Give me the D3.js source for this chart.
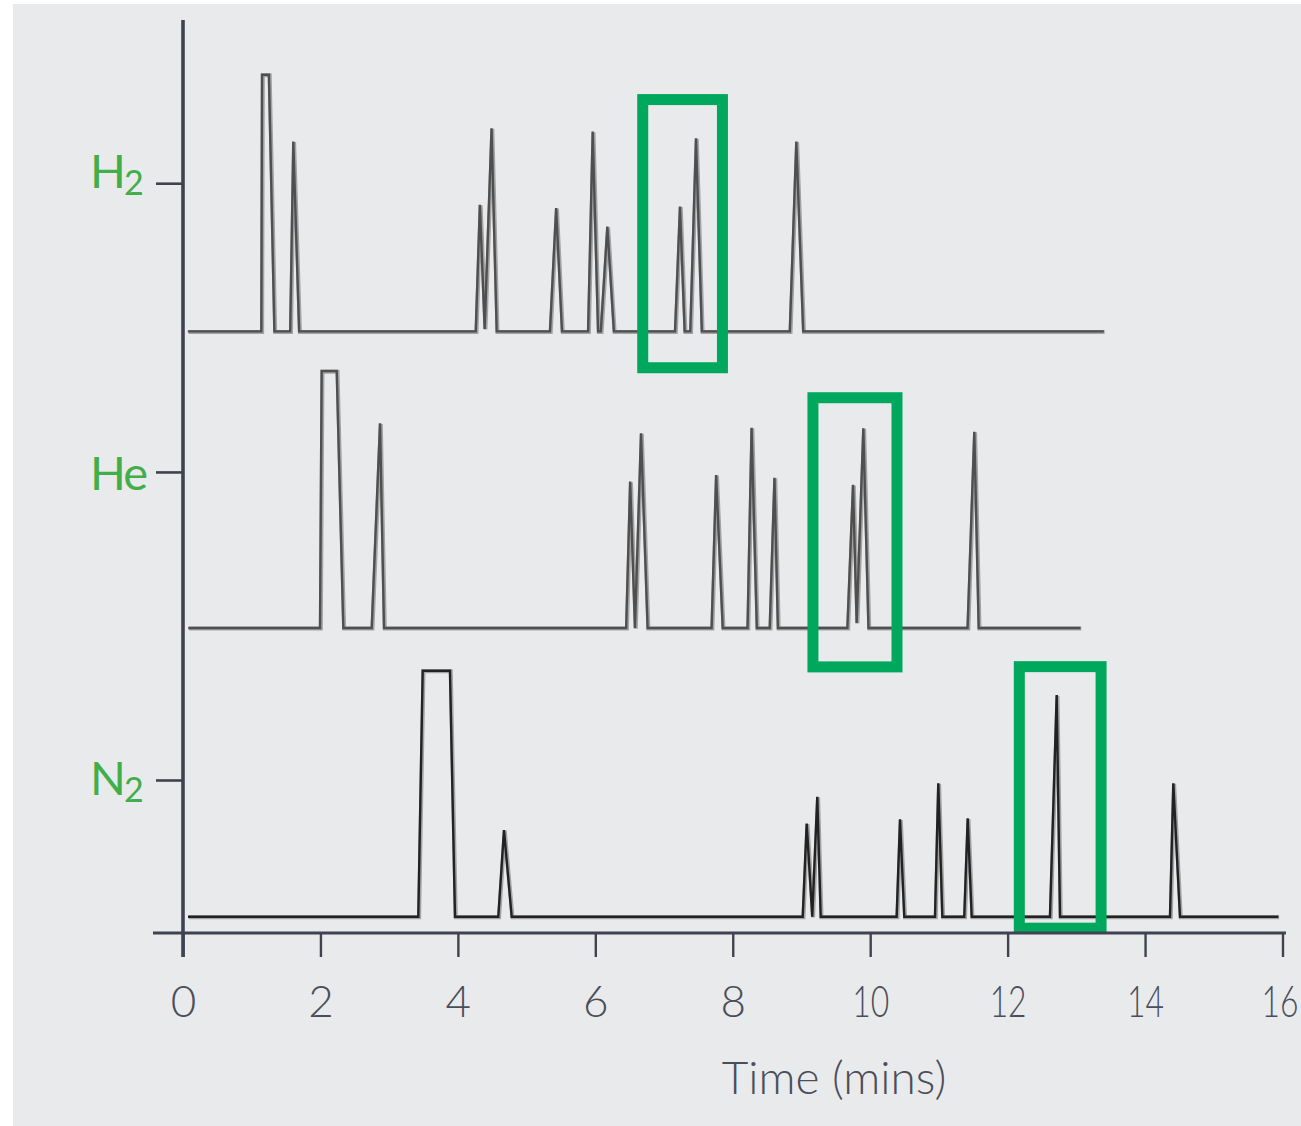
<!DOCTYPE html>
<html>
<head>
<meta charset="utf-8">
<script src="https://cdn.jsdelivr.net/npm/d3@7"></script>
<style>
  html, body { margin: 0; padding: 0; background: #ffffff; }
  svg { display: block; }
</style>
</head>
<body>
<svg id="chart" width="1301" height="1126"></svg>
<script>
// ---------- data ----------
const xTicks = [0, 2, 4, 6, 8, 10, 12, 14, 16];
const xLabel = "Time (mins)";
const gasNames = [["H", "2"], ["He", ""], ["N", "2"]];
const gasLabelPos = [295, 181.4, 60.2];     // y position of each category tick (offset units)
const gasBaselines = [236.7, 120, 6.4];     // baseline offset of each trace

const traceH2 = [
  [0.07,0],[1.14,0],[1.15,101],[1.25,101],[1.33,0],[1.56,0],[1.605,74.7],[1.69,0],
  [4.26,0],[4.32,49.8],[4.39,1],[4.49,79.9],[4.565,0],[5.34,0],[5.43,48.5],[5.515,0],
  [5.895,0],[5.962,78.6],[6.04,0],[6.08,0],[6.175,41.2],[6.27,0],[7.16,0],[7.232,49.1],
  [7.30,0],[7.382,0],[7.465,76],[7.55,0],[8.83,0],[8.925,74.7],[9.025,0],[13.40,0]
];
const traceHe = [
  [0.077,0],[1.994,0],[2.018,101.1],[2.237,101.1],[2.333,0],[2.746,0],[2.867,80.5],[2.925,0],
  [6.449,0],[6.507,57.6],[6.577,0],[6.665,76.6],[6.761,0],[7.692,0],[7.758,60.2],[7.854,0],
  [8.215,0],[8.274,78.8],[8.35,0],[8.538,0],[8.607,59.1],[8.657,0],[9.668,0],[9.75,56.3],
  [9.803,2],[9.9,78.6],[9.975,0],[11.417,0],[11.515,77.2],[11.579,0],[13.06,0]
];
const traceN2 = [
  [0.073,0],[3.424,0],[3.488,96.8],[3.885,96.8],[3.958,0],[4.588,0],[4.671,34.1],[4.783,0],
  [9.018,0],[9.076,36.7],[9.157,0],[9.23,47.2],[9.28,0],[10.385,0],[10.434,38.3],[10.496,0],
  [10.943,0],[10.991,52.5],[11.05,0],[11.369,0],[11.419,38.7],[11.477,0],[12.616,0],
  [12.714,87.2],[12.762,0],[14.363,0],[14.411,52.5],[14.508,0],[15.94,0]
];
const traces = [traceH2, traceHe, traceN2];

// highlight boxes: [t0, t1, yBottom, yTop] in axis units
const highlightBoxes = [
  [6.69, 7.85, 222.4, 327.9],
  [9.167, 10.39, 104.7, 210.6],
  [12.17, 13.36, 1.9, 104.8]
];

// ---------- layout / style ----------
const traceColors = ["#4f4f4f", "#4f4f4f", "#222222"];
const labelDy = [5, 18, 15];
const fontFamily = "Lato, 'Open Sans', sans-serif";

const svg = d3.select("#chart");
svg.append("rect").attr("x", 13).attr("y", 4).attr("width", 1301 - 13).attr("height", 1126 - 4)
  .attr("fill", "#e9eaec");

const x = d3.scaleLinear().domain([0, 16]).range([183, 1282.5]);
const y = d3.scaleLinear().domain([0, 360]).range([933, 18]);

const axisColor = "#3f4350";
const textColor = "#4a4e5a";
const labelGreen = "#41ae4a";
const boxGreen = "#00a85d";

// traces (gray halo + darker core, like the scanned original)
const line = d3.line().x(d => x(d[0])).y(d => y(d[1]));
traces.forEach((tr, i) => {
  const pts = tr.map(p => [p[0], p[1] + gasBaselines[i]]);
  svg.append("path")
    .datum(pts)
    .attr("d", line)
    .attr("fill", "none")
    .attr("stroke", "#a3a3a3")
    .attr("stroke-width", 4)
    .attr("stroke-linejoin", "miter")
    .attr("transform", "translate(0.8,0.6)");
  svg.append("path")
    .datum(pts)
    .attr("d", line)
    .attr("fill", "none")
    .attr("stroke", traceColors[i])
    .attr("stroke-width", 2.4)
    .attr("stroke-linejoin", "miter");
});

// highlight boxes
svg.selectAll("rect.box").data(highlightBoxes).enter().append("rect")
  .attr("class", "box")
  .attr("x", d => x(d[0]))
  .attr("y", d => y(d[3]))
  .attr("width", d => x(d[1]) - x(d[0]))
  .attr("height", d => y(d[2]) - y(d[3]))
  .attr("fill", "none")
  .attr("stroke", boxGreen)
  .attr("stroke-width", 11);

// x axis
const gx = svg.append("g").attr("transform", `translate(0,${y(0)})`)
  .call(d3.axisBottom(x).tickValues(xTicks).tickSize(24).tickSizeOuter(0).tickFormat(d3.format("d")));
gx.select(".domain").remove();
gx.selectAll(".tick line").attr("stroke", axisColor).attr("stroke-width", 2.4);
gx.selectAll(".tick text")
  .attr("y", 84).attr("dy", 0)
  .attr("fill", textColor)
  .style("font-family", fontFamily)
  .style("font-weight", 300)
  .style("font-size", "44px")
  .each(function(d, i, nodes) {
    if (String(d).length > 1) {
      d3.select(this).attr("textLength", 37).attr("lengthAdjust", "spacingAndGlyphs");
    }
    if (i === nodes.length - 1) d3.select(this).attr("dx", -3);
  });
svg.append("line")
  .attr("x1", x(-0.437)).attr("x2", x(16.05))
  .attr("y1", y(0)).attr("y2", y(0))
  .attr("stroke", axisColor).attr("stroke-width", 2.8);

svg.append("text")
  .attr("x", 834).attr("y", 1094)
  .attr("text-anchor", "middle")
  .attr("fill", textColor)
  .style("font-family", fontFamily)
  .style("font-weight", 300)
  .style("font-size", "46px")
  .text(xLabel);

// y axis (category ticks)
const gy = svg.append("g").attr("transform", `translate(${x(0)},0)`)
  .call(d3.axisLeft(y).tickValues(gasLabelPos).tickSize(27).tickSizeOuter(0).tickFormat(""));
gy.select(".domain").remove();
gy.selectAll(".tick line").attr("stroke", axisColor).attr("stroke-width", 2.6);
svg.append("line")
  .attr("x1", x(0)).attr("x2", x(0))
  .attr("y1", 20).attr("y2", y(0) + 24)
  .attr("stroke", axisColor).attr("stroke-width", 3.6);

gasNames.forEach((nm, i) => {
  const t = svg.append("text")
    .attr("x", 90).attr("y", y(gasLabelPos[i]) + labelDy[i])
    .attr("fill", labelGreen)
    .style("font-family", fontFamily)
    .style("font-size", "47px")
    .style("letter-spacing", "-2px");
  t.append("tspan").text(nm[0]);
  if (nm[1]) {
    t.append("tspan").attr("dy", 7).style("font-size", "34px").text(nm[1]);
  }
});
</script>
</body>
</html>
